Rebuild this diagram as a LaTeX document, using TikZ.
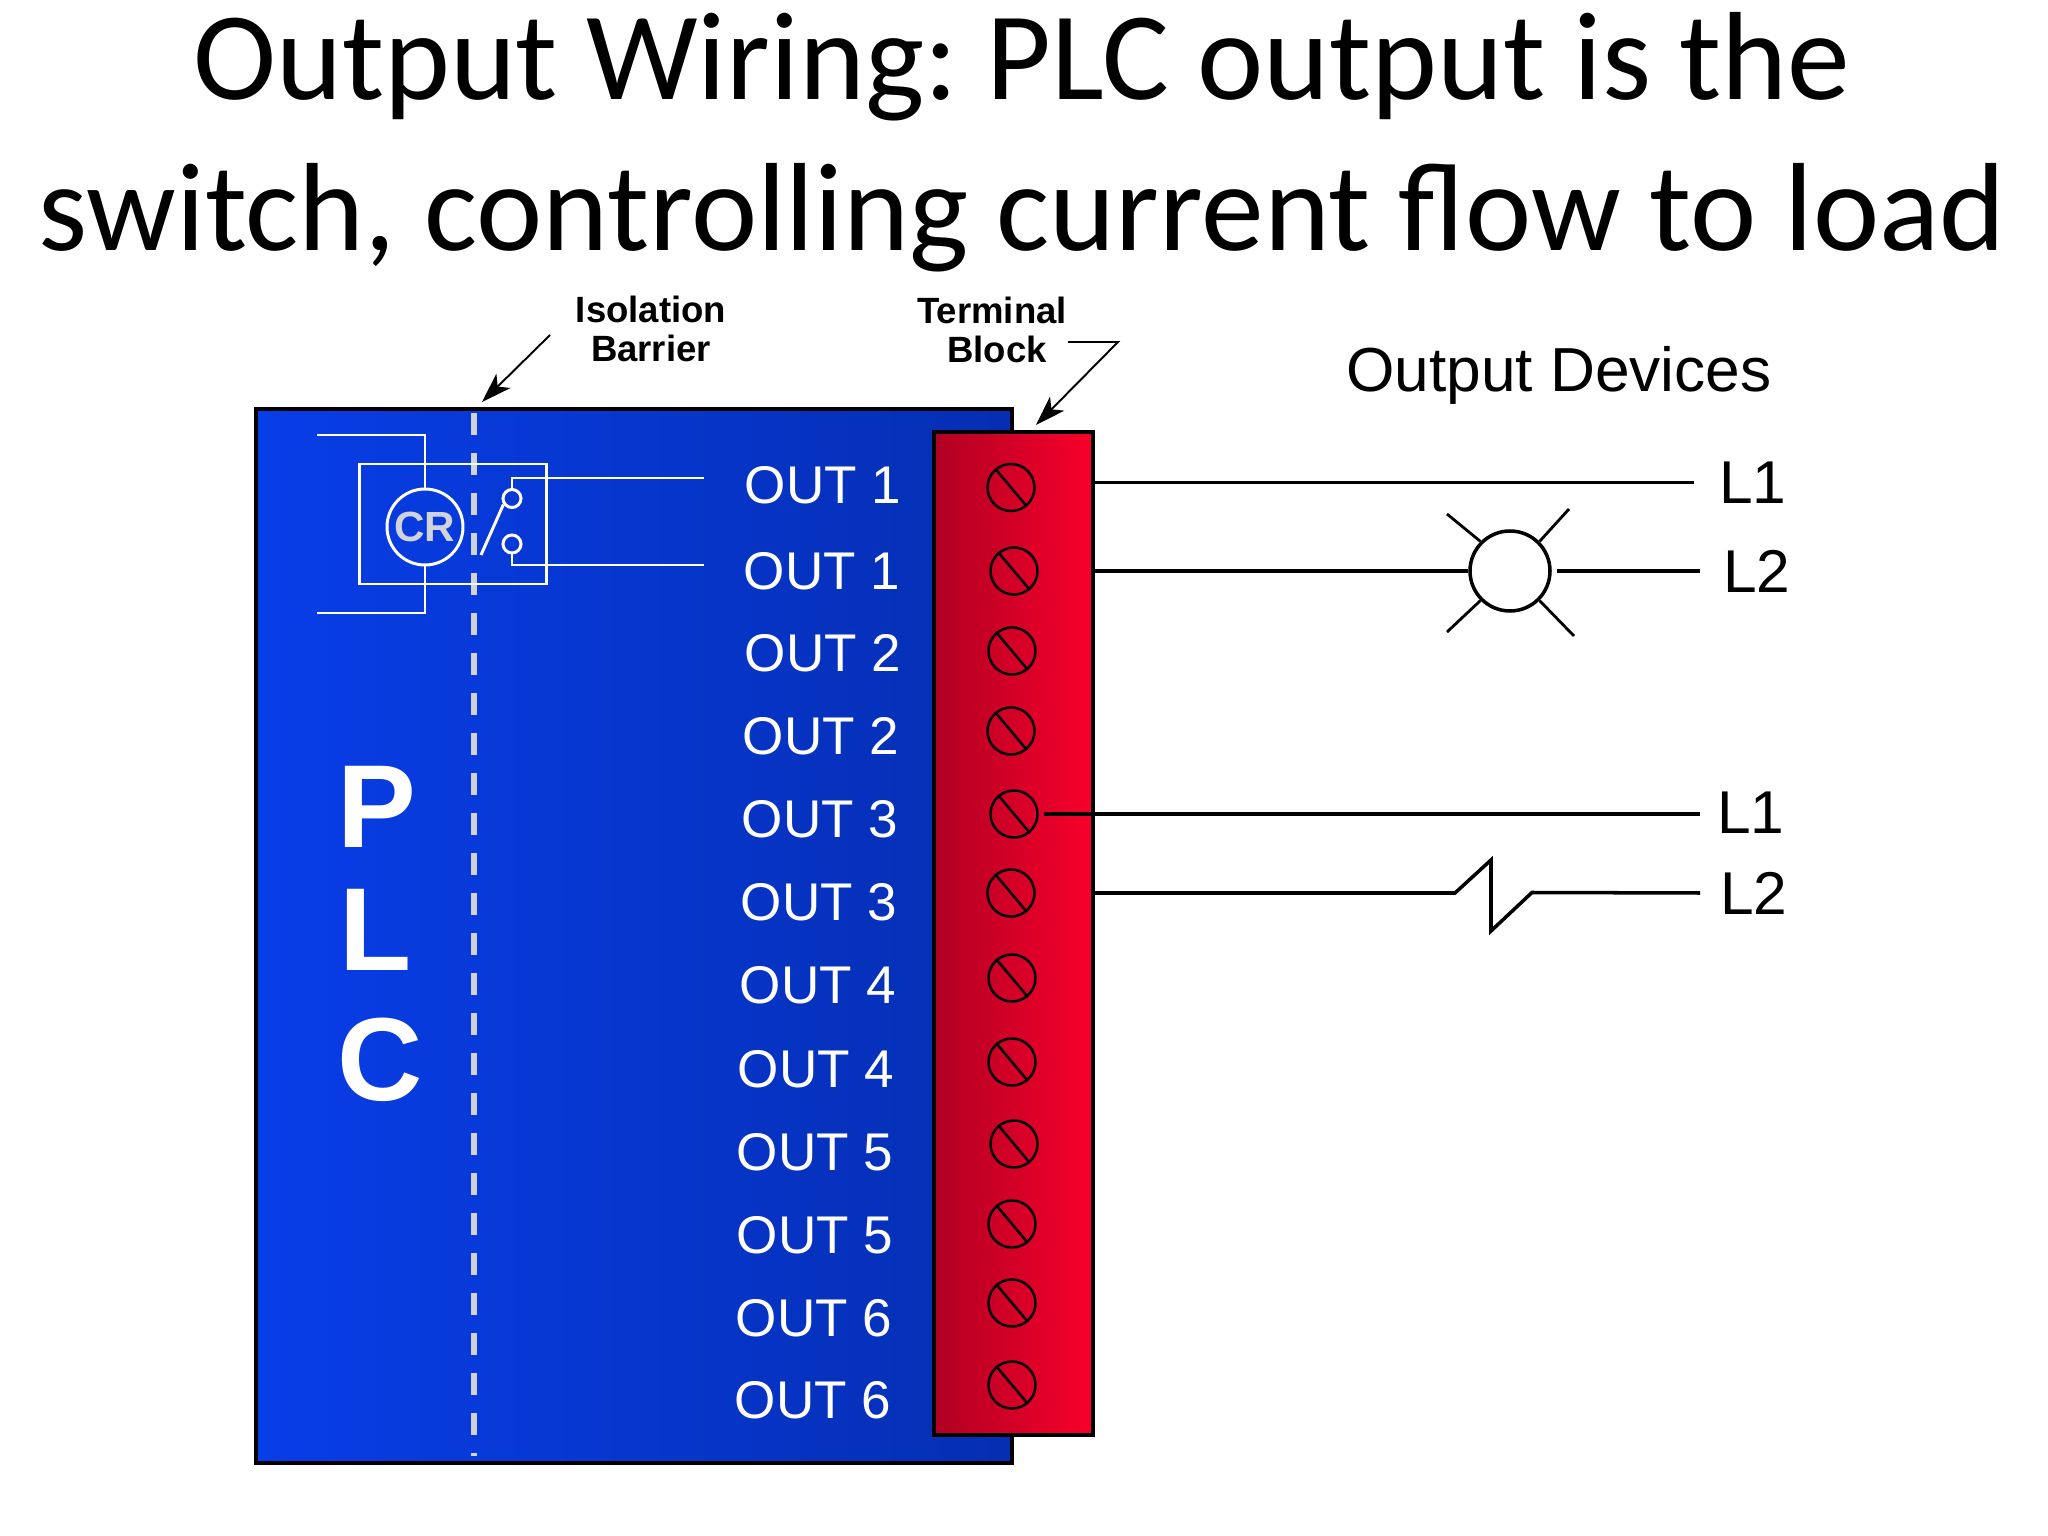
\documentclass[tikz,border=0pt]{standalone}
\usepackage{fontspec}
\setmainfont{Liberation Sans}
\newfontfamily\titlefont{Carlito}
\usetikzlibrary{arrows.meta}
\definecolor{plcleft}{RGB}{8,62,232}
\definecolor{plcright}{RGB}{5,46,178}
\definecolor{blockleft}{RGB}{176,0,34}
\definecolor{blockright}{RGB}{248,0,42}
\definecolor{barrier}{RGB}{208,210,220}
\tikzset{
  wire/.style={line width=1pt},
  ray/.style={line width=0.8pt},
  thinwire/.style={white,line width=0.85pt},
  screw/.style={circle,draw,line width=0.7pt,inner sep=0pt,minimum size=0.47cm},
  outlabel/.style={white,inner sep=0pt,font=\fontsize{15.1}{18}\selectfont},
  linelabel/.style={inner sep=0pt,font=\fontsize{17.2}{21}\selectfont},
  callout/.style={align=center,inner sep=0pt,font=\fontsize{10.4}{11.2}\selectfont\bfseries},
  plcletter/.style={white,inner sep=0pt,font=\fontsize{33.6}{40}\selectfont\bfseries},
  titleline/.style={anchor=base,inner sep=0pt,font=\fontsize{35.7}{42}\selectfont\titlefont\frenchspacing},
  pointer/.style={line width=0.55pt,-{Stealth[length=0.3cm,width=0.2cm,inset=0.08cm]}}
}
\begin{document}
\begin{tikzpicture}
  \useasboundingbox (0,0) rectangle (20.48,-15.36);

  \node[titleline] (title1) at (10.22,-1.00) {Output Wiring: PLC output is the};
  \node[titleline] (title2) at (10.22,-2.51) {switch, controlling current flow to load};

  \node[draw,line width=1pt,left color=plcleft,right color=plcright,minimum width=7.56cm,minimum height=10.54cm,inner sep=0pt] (plc) at (6.34,-9.36) {};
  \node[draw,line width=1pt,left color=blockleft,right color=blockright,minimum width=1.59cm,minimum height=10.03cm,inner sep=0pt] (block) at (10.135,-9.335) {};

  \draw[barrier,line width=1.7pt,dash pattern=on 0.22cm off 0.18cm] (4.74,-4.13) -- (4.74,-14.56);

  % relay
  \node[draw,white,line width=0.85pt,minimum width=1.87cm,minimum height=1.20cm,inner sep=0pt] (relay) at (4.53,-5.24) {};
  \node[circle,draw=white,line width=0.85pt,inner sep=0pt,minimum size=0.76cm,text=barrier,font=\fontsize{12}{14}\selectfont\bfseries] (coil) at (4.25,-5.27) {CR};
  \node[circle,draw=white,line width=0.85pt,inner sep=0pt,minimum size=0.18cm] (c1) at (5.12,-4.985) {};
  \node[circle,draw=white,line width=0.85pt,inner sep=0pt,minimum size=0.18cm] (c2) at (5.12,-5.44) {};
  \coordinate (coila) at (3.17,-4.35);
  \coordinate (coilb) at (3.17,-6.13);
  \coordinate (outa) at (7.04,-4.78);
  \coordinate (outb) at (7.04,-5.65);
  \coordinate (blade) at (4.81,-5.55);
  \draw[thinwire] (coila) -| (coil.north);
  \draw[thinwire] (coilb) -| (coil.south);
  \draw[thinwire] (c1.north) |- (outa);
  \draw[thinwire] (c2.south) |- (outb);
  \draw[thinwire] (blade) -- (c1.-145);

  \node[plcletter] (letterp) at (3.77,-8.07) {P};
  \node[plcletter] (letterl) at (3.76,-9.30) {L};
  \node[plcletter] (letterc) at (3.80,-10.60) {C};

  \foreach \i/\x/\y in {1/10.11/-4.875,2/10.14/-5.71,3/10.12/-6.51,4/10.11/-7.31,5/10.14/-8.14,6/10.11/-8.93,
      7/10.12/-9.78,8/10.12/-10.62,9/10.14/-11.44,10/10.12/-12.24,11/10.12/-13.03,12/10.12/-13.85} {
    \node[screw] (s\i) at (\x,\y) {};
    \draw[line width=0.7pt] (s\i.130) -- (s\i.-50);
  }

  \foreach \i/\n/\x/\y in {1/1/8.23/-4.855,2/1/8.22/-5.71,3/2/8.23/-6.53,4/2/8.21/-7.36,5/3/8.20/-8.19,6/3/8.19/-9.02,
      7/4/8.18/-9.85,8/4/8.16/-10.69,9/5/8.15/-11.52,10/5/8.15/-12.35,11/6/8.14/-13.18,12/6/8.13/-14.00} {
    \node[outlabel] (out\i) at (\x,\y) {OUT \n};
  }

  \node[callout] (isolation) at (6.51,-3.29) {Isolation\\Barrier};
  \node[callout] (terminal) at (9.92,-3.10) {Terminal};
  \node[callout] (blocklabel) at (9.97,-3.49) {Block};
  \coordinate (isoa) at (5.50,-3.35);
  \coordinate (isob) at (4.82,-4.02);
  \coordinate (tba) at (10.68,-3.42);
  \coordinate (tbb) at (11.18,-3.42);
  \coordinate (tbc) at (10.36,-4.25);
  \draw[pointer] (isoa) -- (isob);
  \draw[pointer] (tba) -- (tbb) -- (tbc);

  \node[anchor=base,inner sep=0pt,font=\fontsize{17.7}{21}\selectfont] (devices) at (15.59,-3.92) {Output Devices};

  \node[linelabel] (l1a) at (17.53,-4.83) {L1};
  \node[linelabel] (l2a) at (17.57,-5.71) {L2};
  \node[linelabel] (l1b) at (17.51,-8.13) {L1};
  \node[linelabel] (l2b) at (17.54,-8.93) {L2};

  % lamp
  \node[circle,draw,line width=1pt,fill=white,inner sep=0pt,minimum size=0.8cm] (lamp) at (15.10,-5.71) {};
  \coordinate (w1a) at (10.93,-4.825);
  \coordinate (w1b) at (16.94,-4.825);
  \coordinate (w2b) at (17.00,-5.71);
  \coordinate (w3b) at (17.00,-8.14);
  \coordinate (w4b) at (17.00,-8.93);
  \coordinate (ray1) at (14.47,-5.14);
  \coordinate (ray2) at (15.69,-5.09);
  \coordinate (ray3) at (14.47,-6.32);
  \coordinate (ray4) at (15.74,-6.36);
  \draw[wire] (w1a) -- (w1b);
  \draw[wire] (block.east |- lamp) -- (lamp.west);
  \draw[wire,shorten <=0.05cm] (lamp.east) -- (w2b);
  \draw[ray] (lamp.135) -- (ray1);
  \draw[ray] (lamp.45) -- (ray2);
  \draw[ray] (lamp.-135) -- (ray3);
  \draw[ray] (lamp.-45) -- (ray4);

  \draw[wire,shorten <=0.05cm] (s5.east) -- (w3b);
  % overload break
  \draw[wire] (block.east |- s6) -- (14.55,-8.93) -- (14.91,-8.60) -- (14.91,-9.31) -- (15.32,-8.925) -- (w4b);
\end{tikzpicture}
\end{document}
